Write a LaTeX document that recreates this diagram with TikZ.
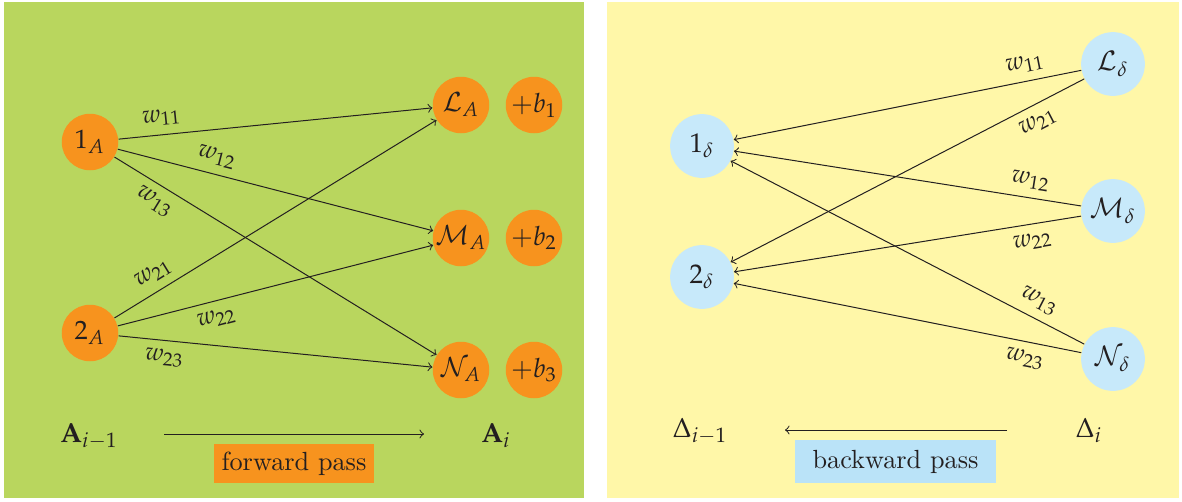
\documentclass[tikz,border=0pt]{standalone}
\usepackage{mathpazo}
\renewcommand{\rmdefault}{lmr}
\definecolor{greenC}{RGB}{185,214,94}
\definecolor{yellowC}{RGB}{255,247,168}
\definecolor{orangeC}{RGB}{247,147,30}
\definecolor{blueN}{RGB}{199,233,250}
\definecolor{blueB}{RGB}{186,227,248}
\definecolor{inkC}{RGB}{35,31,32}
\begin{document}
\begin{tikzpicture}[x=0.4pt,y=-0.4pt,
  lnode/.style={circle,fill=orangeC,inner sep=0pt,minimum size=22.6pt,text=inkC,font=\fontsize{10.6}{12}\selectfont},
  rnode/.style={circle,fill=blueN,inner sep=0pt,minimum size=25.5pt,text=inkC,font=\fontsize{10.8}{12}\selectfont},
  wlab/.style={sloped,text=inkC},
  fconn/.style={->,draw=inkC},
  bconn/.style={<-,draw=inkC},
  passbox/.style={inner sep=0pt,text=inkC,font=\fontsize{10.5}{12}\selectfont},
  bottomlab/.style={anchor=base,text=inkC,font=\fontsize{11}{13}\selectfont}]
\useasboundingbox (0,0) rectangle (1182,501);
\fill[greenC] (4,2) rectangle (584,498);
\fill[yellowC] (607,2) rectangle (1179,498);
% left panel
\node[lnode] (a1) at (90,142) {$1_A$};
\node[lnode] (a2) at (90,333) {$2_A$};
\node[lnode] (aL) at (461,105) {$\mathcal{L}_A$};
\node[lnode] (aM) at (461,238) {$\mathcal{M}_A$};
\node[lnode] (aN) at (461,370) {$\mathcal{N}_A$};
\node[lnode] (b1) at (534,105) {$+b_1$};
\node[lnode] (b2) at (534,238) {$+b_2$};
\node[lnode] (b3) at (534,370) {$+b_3$};
\draw[fconn] (a1) -- node[wlab,pos=0.143,above]{$w_{11}$} (aL);
\draw[fconn] (a1) -- node[wlab,pos=0.30,above]{$w_{12}$} (aM);
\draw[fconn] (a1) -- node[wlab,pos=0.152,below]{$w_{13}$} (aN);
\draw[fconn] (a2) -- node[wlab,pos=0.149,above]{$w_{21}$} (aL);
\draw[fconn] (a2) -- node[wlab,pos=0.30,below]{$w_{22}$} (aM);
\draw[fconn] (a2) -- node[wlab,pos=0.151,below]{$w_{23}$} (aN);
\node[bottomlab] (Aim) at (89,442) {$\mathbf{A}_{i-1}$};
\node[bottomlab] (Ai) at (496,442) {$\mathbf{A}_i$};
\coordinate (f1) at (164,434);
\coordinate (f2) at (424,434);
\draw[fconn] (f1) -- (f2);
\node[passbox,fill=orangeC,minimum width=64pt,minimum height=15.5pt] (fp) at (294,463.3) {forward pass};
% right panel
\node[rnode] (d1) at (702,146) {$1_\delta$};
\node[rnode] (d2) at (702,277) {$2_\delta$};
\node[rnode] (dL) at (1113,64) {$\mathcal{L}_\delta$};
\node[rnode] (dM) at (1113,211) {$\mathcal{M}_\delta$};
\node[rnode] (dN) at (1113,359) {$\mathcal{N}_\delta$};
\draw[bconn] (d1) -- node[wlab,pos=0.848,above]{$w_{11}$} (dL);
\draw[bconn] (d2) -- node[wlab,pos=0.847,below]{$w_{21}$} (dL);
\draw[bconn] (d1) -- node[wlab,pos=0.847,above]{$w_{12}$} (dM);
\draw[bconn] (d2) -- node[wlab,pos=0.853,below]{$w_{22}$} (dM);
\draw[bconn] (d1) -- node[wlab,pos=0.849,above]{$w_{13}$} (dN);
\draw[bconn] (d2) -- node[wlab,pos=0.847,below]{$w_{23}$} (dN);
\node[bottomlab] (Dim) at (700,437) {$\Delta_{i-1}$};
\node[bottomlab] (Di) at (1089,437) {$\Delta_i$};
\coordinate (g1) at (1007,430);
\coordinate (g2) at (785,430);
\draw[fconn] (g1) -- (g2);
\node[passbox,fill=blueB,minimum width=80.4pt,minimum height=17.2pt] (bp) at (895.5,461.5) {backward pass};
\end{tikzpicture}
\end{document}
